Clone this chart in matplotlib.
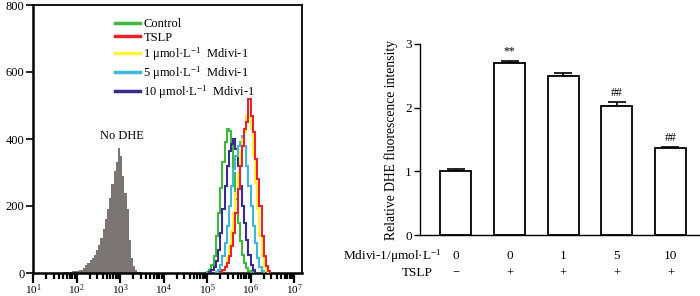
import numpy as np
import matplotlib
matplotlib.use('Agg')
import matplotlib.pyplot as plt

plt.rcParams['font.family'] = ['Liberation Serif', 'DejaVu Serif']
plt.rcParams['mathtext.fontset'] = 'custom'
plt.rcParams['mathtext.rm'] = 'Liberation Serif'
plt.rcParams['mathtext.it'] = 'Liberation Serif:italic'

# ---- flow cytometry histograms (log10 start of first bin, counts per 0.05-decade bin) ----
bin_w = 0.05

nodhe_start = 1.70
nodhe_counts = [2, 3, 3, 4, 5, 5, 6, 8, 10, 15, 25, 30, 38, 45, 55, 68, 85, 105, 130, 160,
                190, 225, 265, 305, 330, 372, 350, 290, 240, 190, 100, 45, 20, 10, 4, 2]

control_start = 5.00
control_counts = [3, 10, 25, 50, 110, 180, 255, 330, 390, 430, 425, 380, 300, 220, 150, 95,
                  55, 30, 15, 6, 2]

mdivi10_start = 5.05
mdivi10_counts = [3, 8, 18, 35, 70, 120, 190, 260, 320, 365, 385, 400, 370, 320, 260, 200,
                  150, 100, 55, 25, 8]

mdivi5_start = 5.20
mdivi5_counts = [3, 10, 25, 50, 90, 140, 200, 260, 310, 350, 380, 390, 410, 380, 320, 260,
                 200, 140, 90, 45, 18, 5]

mdivi1_start = 5.30
mdivi1_counts = [3, 10, 22, 45, 80, 125, 180, 240, 300, 360, 400, 420, 470, 480, 430, 350,
                 270, 190, 110, 50, 18, 5]

tslp_start = 5.30
tslp_counts = [2, 8, 18, 30, 50, 80, 120, 180, 250, 320, 380, 430, 450, 520, 470, 420,
               340, 280, 200, 110, 50, 20, 5]

# ---- bar chart ----
groups = ['0', '0', '1', '5', '10']
tslp_signs = ['\u2212', '+', '+', '+', '+']
rel_intensity = [1.01, 2.70, 2.49, 2.02, 1.36]
rel_err = [0.02, 0.04, 0.06, 0.07, 0.02]
marks = ['', '**', '', '##', '##']


def edges(start, counts):
    return 10 ** (start + bin_w * np.arange(len(counts) + 1))


fig = plt.figure(figsize=(7, 2.96), dpi=100)

# left panel
ax1 = fig.add_axes([33 / 700, 1 - 273 / 296, 269 / 700, 268 / 296])
ax1.stairs(nodhe_counts, edges(nodhe_start, nodhe_counts), fill=True,
           color='#7b7573', zorder=2)
series = [
    (control_start, control_counts, '#3db93d', 'Control'),
    (tslp_start, tslp_counts, '#e8232c', 'TSLP'),
    (mdivi1_start, mdivi1_counts, '#fff23a', '1 \u03bcmol\u00b7L$^{-1}$  Mdivi-1'),
    (mdivi5_start, mdivi5_counts, '#3fb7dc', '5 \u03bcmol\u00b7L$^{-1}$  Mdivi-1'),
    (mdivi10_start, mdivi10_counts, '#3b2a90', '10 \u03bcmol\u00b7L$^{-1}$  Mdivi-1'),
]
draw_order = [0, 4, 3, 2, 1]
handles = {}
for i in draw_order:
    start, counts, col, lab = series[i]
    ax1.stairs(counts, edges(start, counts), color=col, lw=1.5, zorder=3)
    handles[i] = (plt.Line2D([], [], color=col, lw=2.5), lab)
ax1.legend([handles[i][0] for i in range(5)], [handles[i][1] for i in range(5)],
           loc='upper left', bbox_to_anchor=(0.285, 0.97), frameon=False,
           fontsize=9, handlelength=2.0, handletextpad=0.3, labelspacing=0.12,
           borderaxespad=0)
ax1.text(10 ** 3.05, 410, 'No DHE', ha='center', va='center', fontsize=9)

ax1.set_xscale('log')
ax1.set_xlim(10 ** 1, 10 ** 7.18)
ax1.set_ylim(0, 800)
ax1.set_yticks([0, 200, 400, 600, 800])
ax1.set_xticks([10 ** k for k in range(1, 8)])
ax1.set_xticklabels(['10$^{%d}$' % k for k in range(1, 8)])
ax1.tick_params(axis='x', which='major', direction='out', length=7, width=1.6,
                labelsize=8, pad=0)
ax1.tick_params(axis='x', which='minor', direction='out', length=4.5, width=1.6)
ax1.tick_params(axis='y', direction='out', length=5, width=1.2, labelsize=9, pad=1)
for s in ax1.spines.values():
    s.set_linewidth(1.3)
ax1.spines['left'].set_linewidth(1.8)
ax1.spines['bottom'].set_linewidth(1.8)

# right panel
ax2 = fig.add_axes([420 / 700, 1 - 235 / 296, 280 / 700, 191 / 296])
x = np.arange(len(groups))
ax2.bar(x, rel_intensity, width=0.58, color='white', edgecolor='black', lw=1.3, zorder=2)
ax2.errorbar(x, rel_intensity, yerr=[np.zeros(len(x)), rel_err], fmt='none',
             ecolor='black', elinewidth=1.2, capsize=6.5, capthick=1.2, zorder=1)
for xi, v, e, m in zip(x, rel_intensity, rel_err, marks):
    if m:
        ax2.text(xi, v + e + 0.05, m, ha='center', va='bottom', fontsize=8.5)
ax2.set_xlim(-0.67, 4.55)
ax2.set_ylim(0, 3)
ax2.set_yticks([0, 1, 2, 3])
ax2.set_xticks([])
ax2.spines['top'].set_visible(False)
ax2.spines['right'].set_visible(False)
ax2.spines['left'].set_linewidth(1.0)
ax2.spines['bottom'].set_linewidth(1.0)
ax2.tick_params(axis='y', direction='out', length=4, width=1.0, labelsize=9.5, pad=2)
ax2.set_ylabel('Relative DHE fluorescence intensity', fontsize=9.8, labelpad=5)

trans = ax2.get_xaxis_transform()
for xi, g, s in zip(x, groups, tslp_signs):
    ax2.text(xi, -0.11, g, transform=trans, ha='center', va='center', fontsize=9.5)
    ax2.text(xi, -0.2, s, transform=trans, ha='center', va='center', fontsize=9)
ax2.text(442, 296 - 256, 'Mdivi-1/\u03bcmol\u00b7L$^{-1}$', transform=None,
         ha='right', va='center', fontsize=9.5)
ax2.text(433, 296 - 273, 'TSLP', transform=None, ha='right', va='center', fontsize=9.5)

fig.savefig('out.png', dpi=100)
